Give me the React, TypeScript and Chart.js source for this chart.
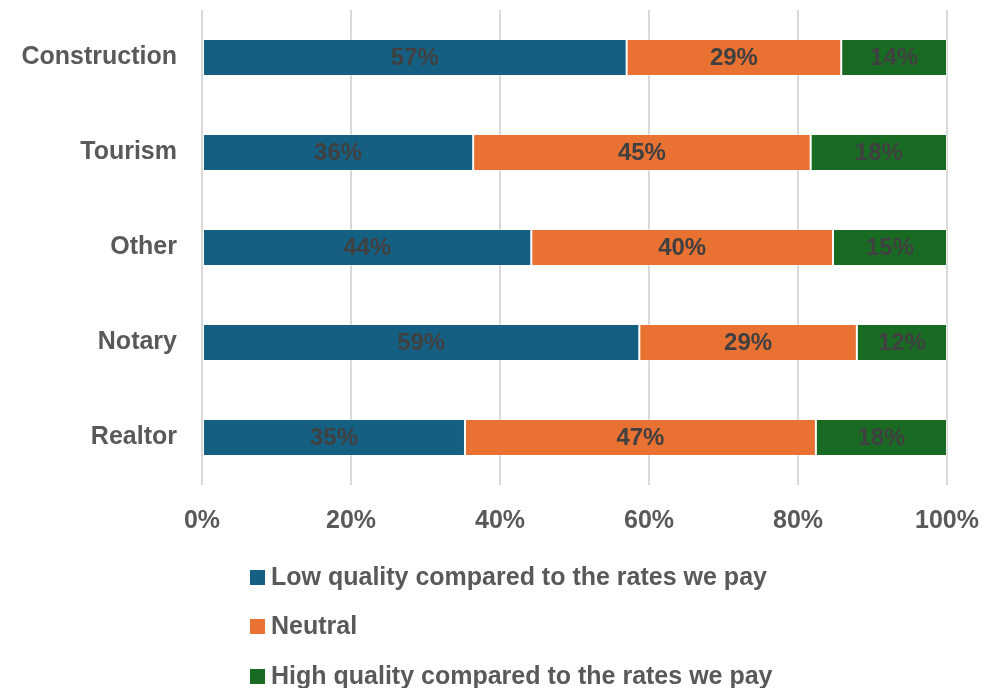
import React, { useEffect, useRef } from "react";
import { Chart, registerables } from "chart.js";

Chart.register(...registerables);

const categories = ["Construction", "Tourism", "Other", "Notary", "Realtor"];
const lowQuality = [57.0, 36.4, 44.2, 58.7, 35.3];
const neutral = [28.8, 45.3, 40.5, 29.2, 47.1];
const highQuality = [14.2, 18.3, 15.3, 12.1, 17.6];
const lowLabels = ["57%", "36%", "44%", "59%", "35%"];
const neutralLabels = ["29%", "45%", "40%", "29%", "47%"];
const highLabels = ["14%", "18%", "15%", "12%", "18%"];
const seriesNames = [
  "Low quality compared to the rates we pay",
  "Neutral",
  "High quality compared to the rates we pay",
];
const xTicks = ["0%", "20%", "40%", "60%", "80%", "100%"];

const FONT = "'Liberation Sans', Arial, sans-serif";
const COLORS = ["#156082", "#E97132", "#196B24"];

const labelPlugin = {
  id: "barLabels",
  afterDatasetsDraw(chart: any) {
    const ctx = chart.ctx;
    const all = [lowLabels, neutralLabels, highLabels];
    ctx.save();
    ctx.font = `bold 24px ${FONT}`;
    ctx.fillStyle = "#404040";
    ctx.textAlign = "center";
    ctx.textBaseline = "middle";
    chart.data.datasets.forEach((_: any, di: number) => {
      const meta = chart.getDatasetMeta(di);
      meta.data.forEach((el: any, i: number) => {
        const cx = (el.x + el.base) / 2;
        ctx.fillText(all[di][i], cx, el.y + 1);
      });
    });
    ctx.restore();
  },
};

const legendPlugin = {
  id: "vertLegend",
  afterDraw(chart: any) {
    const ctx = chart.ctx;
    const rows = [577, 626, 676];
    ctx.save();
    ctx.font = `bold 25px ${FONT}`;
    ctx.textBaseline = "middle";
    ctx.textAlign = "left";
    seriesNames.forEach((name, i) => {
      ctx.fillStyle = COLORS[i];
      ctx.fillRect(250, rows[i] - 7, 15, 15);
      ctx.fillStyle = "#595959";
      ctx.fillText(name, 271, rows[i] + 1);
    });
    ctx.restore();
  },
};

export default function App() {
  const ref = useRef<HTMLCanvasElement>(null);
  useEffect(() => {
    if (!ref.current) return;
    const datasets = [lowQuality, neutral, highQuality].map((d, i) => ({
      label: seriesNames[i],
      data: d,
      backgroundColor: COLORS[i],
      borderColor: "rgba(255,255,255,0.35)",
      borderWidth: 1,
      borderSkipped: false,
      barPercentage: 0.39,
      categoryPercentage: 1,
    }));
    const chart = new Chart(ref.current, {
      type: "bar",
      data: { labels: categories, datasets },
      options: {
        indexAxis: "y",
        animation: false,
        responsive: false,
        maintainAspectRatio: false,
        layout: { padding: { top: 10, right: 53, left: 0, bottom: 0 } },
        plugins: { legend: { display: false }, tooltip: { enabled: false } },
        scales: {
          x: {
            stacked: true,
            min: 0,
            max: 100,
            afterFit: (s: any) => {
              s.height = 203;
            },
            ticks: {
              stepSize: 20,
              padding: 21,
              color: "#595959",
              font: { family: FONT, size: 25, weight: "bold" },
              callback: (_v: any, i: number) => xTicks[i],
            },
            grid: { color: "#d9d9d9", lineWidth: 2, drawTicks: false },
            border: { display: false },
          },
          y: {
            stacked: true,
            afterFit: (s: any) => {
              s.width = 202;
              s.paddingTop = 0;
              s.paddingBottom = 0;
            },
            ticks: {
              padding: 25,
              color: "#595959",
              font: { family: FONT, size: 25, weight: "bold" },
            },
            grid: { display: false, drawTicks: false },
            border: { display: false },
          },
        },
      },
      plugins: [labelPlugin, legendPlugin],
    });
    return () => chart.destroy();
  }, []);
  return (
    <div style={{ position: "fixed", left: 0, top: 0, width: 1000, height: 688, background: "#fff" }}>
      <canvas ref={ref} width={1000} height={688} style={{ width: 1000, height: 688, display: "block" }} />
    </div>
  );
}
